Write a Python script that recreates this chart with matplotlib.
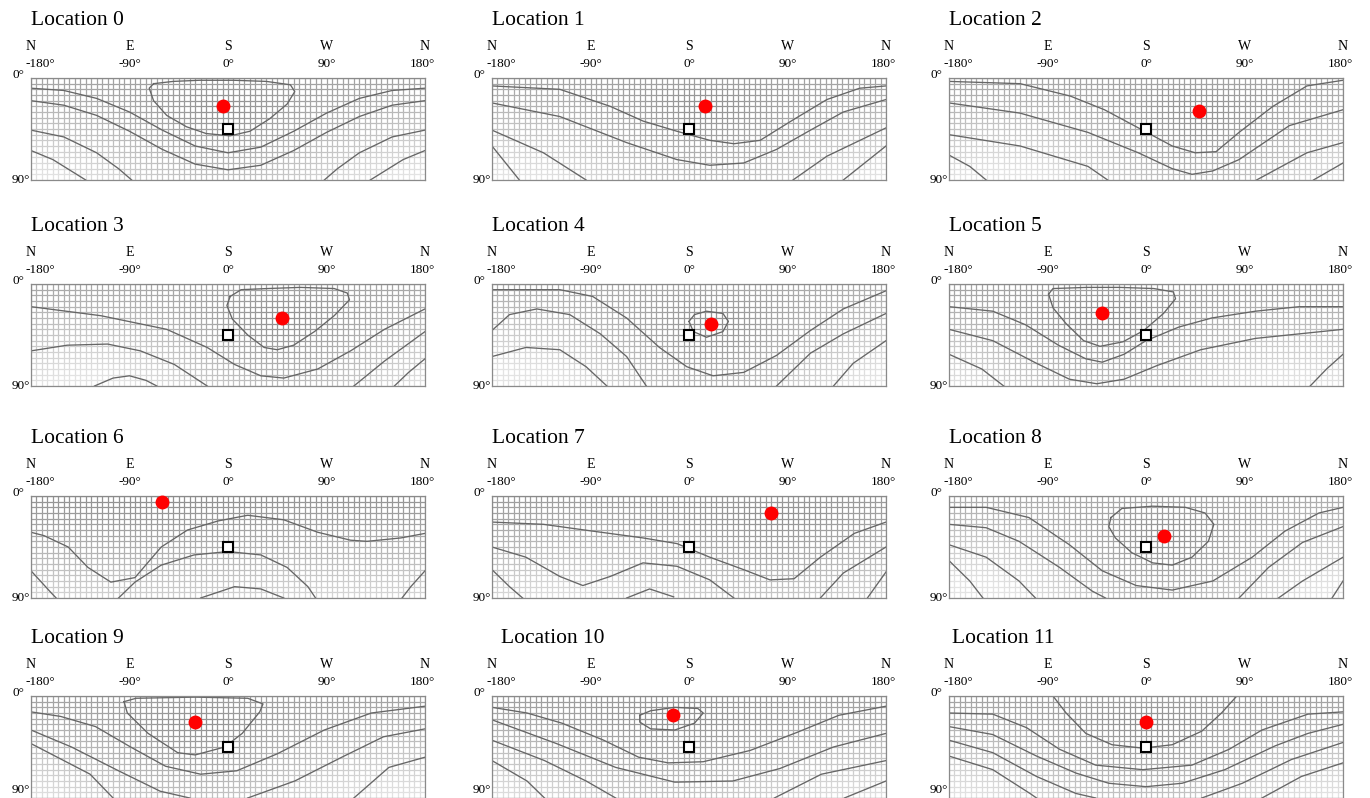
import numpy as np
import matplotlib.pyplot as plt
from matplotlib.collections import LineCollection

plt.rcParams['font.family'] = ['Liberation Serif', 'DejaVu Serif']

# ==========================================================
# DADOS
# ==========================================================
titulos = [f'Location {i}' for i in range(12)]

# ponto otimo (vermelho) e referencia (quadrado): azimute, inclinacao
otimo_az = [-5, 15, 48, 49, 20, -40, -60, 75, 16, -30, -15, 0]
otimo_tilt = [25, 25, 29, 30, 35, 26, 5, 15, 35, 23, 17, 23]
ref_az = [0] * 12
ref_tilt = [45] * 12

az_ticks = [-180, -90, 0, 90, 180]
rumos = ['N', 'E', 'S', 'W', 'N']
graus = ['-180°', '-90°', '0°', '90°', '180°']

# isolinhas de cada local: listas de (azimute, inclinacao)
iso_0 = [
    [(-68, 5), (-50, 3), (-26, 2), (5, 2), (35, 3), (57, 6), (61, 12), (54, 23), (38, 36), (20, 47),
     (2, 51), (-20, 49), (-38, 43), (-56, 33), (-68, 20), (-72, 9), (-68, 5)],
    [(-180, 9), (-150, 11), (-120, 18), (-90, 30), (-60, 46), (-30, 60), (0, 66), (30, 61), (60, 47),
     (90, 31), (120, 18), (150, 11), (180, 9)],
    [(-180, 20), (-150, 24), (-120, 33), (-90, 47), (-60, 63), (-30, 76), (0, 81), (30, 77), (60, 64),
     (90, 48), (120, 34), (150, 24), (180, 20)],
    [(-180, 46), (-150, 52), (-120, 66), (-100, 80), (-88, 90)],
    [(88, 90), (100, 80), (120, 66), (150, 52), (180, 46)],
    [(-180, 64), (-160, 72), (-140, 84), (-130, 90)],
    [(130, 90), (140, 84), (160, 72), (180, 64)],
]
iso_1 = [
    [(-180, 7), (-118, 10), (-72, 25), (-42, 38), (-11, 47), (19, 55), (41, 58), (65, 55), (95, 37),
     (126, 19), (156, 9), (180, 7)],
    [(-180, 22), (-118, 34), (-57, 57), (-11, 72), (19, 77), (50, 75), (80, 63), (111, 46), (141, 30),
     (180, 19)],
    [(-180, 46), (-133, 66), (-94, 90)],
    [(95, 90), (126, 69), (180, 44)],
    [(-180, 60), (-155, 90)],
    [(141, 90), (180, 60)],
]
iso_2 = [
    [(-180, 3), (-115, 5), (-69, 16), (-38, 28), (-7, 44), (24, 60), (45, 66), (64, 65), (85, 48),
     (116, 25), (147, 7), (180, 2)],
    [(-180, 22), (-115, 31), (-53, 48), (-7, 66), (24, 80), (42, 85), (61, 82), (85, 72), (131, 42),
     (180, 28)],
    [(-180, 50), (-115, 60), (-53, 78), (-35, 90)],
    [(101, 90), (147, 66), (180, 57)],
    [(-180, 68), (-161, 78), (-146, 90)],
    [(153, 90), (180, 75)],
]
iso_3 = [
    [(2, 11), (12, 5), (36, 4), (66, 3), (97, 4), (109, 8), (111, 14), (97, 28), (79, 42), (60, 54),
     (45, 58), (33, 56), (18, 45), (4, 31), (-1, 19), (2, 11)],
    [(-180, 20), (-116, 28), (-56, 40), (-19, 56), (6, 71), (30, 81), (51, 83), (82, 75), (112, 59),
     (143, 40), (180, 22)],
    [(-180, 59), (-147, 54), (-110, 53), (-80, 59), (-49, 71), (-19, 90)],
    [(115, 90), (143, 68), (180, 42)],
    [(-122, 90), (-105, 83), (-90, 81), (-75, 85), (-65, 90)],
    [(152, 90), (165, 78), (180, 66)],
]
iso_4 = [
    [(0, 33), (5, 27), (16, 24), (31, 26), (36, 33), (31, 42), (16, 47), (4, 42), (0, 33)],
    [(-180, 5), (-118, 5), (-88, 11), (-57, 30), (-27, 56), (-2, 73), (22, 81), (50, 78), (80, 63),
     (111, 41), (141, 22), (180, 6)],
    [(-180, 41), (-164, 27), (-139, 22), (-109, 27), (-81, 44), (-57, 64), (-39, 90)],
    [(80, 90), (111, 61), (141, 44), (180, 26)],
    [(-180, 64), (-149, 56), (-118, 58), (-94, 73), (-75, 90)],
    [(132, 90), (150, 70), (180, 50)],
]
iso_5 = [
    [(-89, 9), (-85, 4), (-54, 3), (-24, 3), (7, 4), (25, 7), (27, 13), (16, 26), (-2, 41), (-21, 51),
     (-42, 55), (-57, 50), (-73, 35), (-85, 21), (-89, 9)],
    [(-180, 20), (-140, 24), (-110, 36), (-80, 54), (-55, 66), (-40, 69), (-20, 62), (0, 50), (30, 38),
     (60, 30), (100, 24), (140, 20), (180, 20)],
    [(-180, 40), (-140, 50), (-100, 70), (-70, 84), (-45, 88), (-20, 84), (10, 72), (50, 58), (100, 48),
     (140, 44), (180, 40)],
    [(-180, 62), (-150, 75), (-130, 90)],
    [(150, 90), (165, 75), (180, 62)],
]
iso_6 = [
    [(-180, 32), (-168, 35), (-146, 45), (-128, 63), (-107, 76), (-85, 72), (-61, 45), (-37, 30), (-9, 22),
     (18, 17), (51, 21), (82, 32), (112, 39), (127, 40), (158, 37), (180, 33)],
    [(-180, 66), (-161, 86), (-157, 90)],
    [(-100, 90), (-85, 76), (-61, 61), (-31, 52), (0, 49), (30, 52), (54, 63), (73, 80), (80, 90)],
    [(-25, 90), (6, 80), (30, 82), (51, 90)],
    [(159, 90), (167, 80), (180, 66)],
]
iso_7 = [
    [(-180, 23), (-133, 25), (-88, 31), (-42, 37), (-11, 42), (19, 54), (50, 65), (74, 74), (96, 73),
     (120, 54), (151, 33), (180, 23)],
    [(-180, 45), (-149, 54), (-118, 71), (-97, 79), (-72, 71), (-42, 59), (-11, 62), (19, 74), (41, 90)],
    [(120, 90), (141, 68), (180, 45)],
    [(-180, 65), (-164, 80), (-152, 90)],
    [(-57, 90), (-36, 82), (-14, 89)],
    [(163, 90), (180, 67)],
]
iso_8 = [
    [(-32, 19), (-22, 11), (6, 9), (36, 10), (54, 15), (62, 25), (57, 40), (42, 54), (24, 61), (6, 59),
     (-13, 50), (-28, 37), (-34, 27), (-32, 19)],
    [(-180, 10), (-146, 10), (-107, 19), (-70, 43), (-40, 66), (-9, 79), (24, 83), (61, 75), (97, 54),
     (127, 31), (158, 15), (180, 10)],
    [(-180, 25), (-146, 28), (-116, 40), (-79, 63), (-49, 84), (-37, 90)],
    [(85, 90), (112, 63), (143, 41), (180, 27)],
    [(-180, 43), (-146, 54), (-116, 75), (-101, 90)],
    [(121, 90), (143, 75), (180, 54)],
    [(-180, 57), (-161, 75), (-149, 90)],
    [(170, 90), (180, 75)],
]
iso_9 = [
    [(-95, 5), (-84, 2), (-30, 1), (18, 2), (32, 7), (29, 14), (13, 33), (-3, 45), (-30, 52), (-46, 50),
     (-73, 33), (-92, 15), (-95, 5)],
    [(-180, 14), (-153, 18), (-121, 27), (-89, 45), (-57, 62), (-25, 69), (8, 66), (45, 51), (88, 30),
     (131, 15), (180, 9)],
    [(-180, 30), (-143, 45), (-100, 66), (-62, 84), (-35, 90)],
    [(18, 90), (61, 75), (104, 54), (142, 36), (180, 29)],
    [(-180, 42), (-126, 69), (-105, 90)],
    [(115, 90), (147, 63), (180, 54)],
]
iso_10 = [
    [(-45, 17), (-35, 13), (-13, 10), (8, 11), (13, 15), (5, 24), (-13, 30), (-35, 29), (-45, 23), (-45, 17)],
    [(-180, 10), (-148, 15), (-116, 24), (-78, 39), (-46, 54), (-19, 59), (13, 58), (56, 48), (99, 32),
     (137, 17), (180, 9)],
    [(-180, 21), (-121, 42), (-67, 63), (-13, 76), (40, 75), (83, 64), (132, 45), (180, 33)],
    [(-180, 39), (-132, 57), (-94, 75), (-67, 90)],
    [(78, 90), (121, 69), (180, 57)],
    [(-180, 57), (-148, 75), (-132, 90)],
    [(142, 90), (180, 75)],
]
iso_11 = [
    [(-85, 0), (-73, 15), (-55, 33), (-31, 43), (-3, 46), (24, 43), (51, 31), (69, 15), (83, 0)],
    [(-180, 15), (-140, 16), (-109, 28), (-79, 47), (-46, 61), (-3, 65), (42, 61), (76, 47), (106, 30),
     (148, 16), (180, 14)],
    [(-180, 27), (-140, 34), (-100, 53), (-64, 68), (-34, 77), (0, 80), (33, 77), (72, 65), (118, 44),
     (148, 33), (180, 25)],
    [(-180, 39), (-140, 50), (-100, 71), (-64, 86), (-46, 90)],
    [(51, 90), (88, 77), (133, 56), (180, 41)],
    [(-180, 53), (-140, 65), (-106, 86), (-100, 90)],
    [(106, 90), (142, 71), (180, 59)],
]
isolinhas = [iso_0, iso_1, iso_2, iso_3, iso_4, iso_5, iso_6, iso_7, iso_8, iso_9, iso_10, iso_11]

# ==========================================================
# LAYOUT (pixels da figura 1370x798)
# ==========================================================
W, H = 1370, 798
col_x = [31, 492, 949]
lin_y = [78, 284, 496, 696]
larg, alt = 394, 102
desloc_titulo = [0, 0, 0, 0, 0, 0, 0, 0, 0, 0, 9, 3]


def distancia(a, t, a0, t0):
    a, t, a0, t0 = map(np.radians, (a, t, a0, t0))
    c = np.cos(t) * np.cos(t0) + np.sin(t) * np.sin(t0) * np.cos(a - a0)
    return np.degrees(np.arccos(np.clip(c, -1, 1)))


def desenhar_grade(ax, a0, t0, passo=5):
    azs = np.arange(-180, 181, passo)
    tilts = np.arange(0, 91, passo)
    segs, meio = [], []
    for a in azs:
        for t in tilts[:-1]:
            segs.append([(a, t), (a, t + passo)])
            meio.append((a, t + passo / 2))
    for t in tilts:
        for a in azs[:-1]:
            segs.append([(a, t), (a + passo, t)])
            meio.append((a + passo / 2, t))
    meio = np.array(meio)
    d = distancia(meio[:, 0], meio[:, 1], a0, t0)
    g = 0.56 + 0.33 * np.clip(d / 110, 0, 1)
    cores = np.column_stack([g, g, g])
    ax.add_collection(LineCollection(segs, colors=cores, linewidths=0.9, zorder=1))


fig = plt.figure(figsize=(W / 100, H / 100), dpi=100)

for i in range(12):
    lin, col = divmod(i, 3)
    x0, y0 = col_x[col], lin_y[lin]
    ax = fig.add_axes([x0 / W, 1 - (y0 + alt) / H, larg / W, alt / H])
    ax.set_xlim(-180, 180)
    ax.set_ylim(90, 0)
    ax.set_xticks([])
    ax.set_yticks([])
    for s in ax.spines.values():
        s.set_color('#8a8a8a')
        s.set_linewidth(0.9)

    desenhar_grade(ax, otimo_az[i], otimo_tilt[i])

    for k, linha in enumerate(isolinhas[i]):
        xs = [p[0] for p in linha]
        ys = [p[1] for p in linha]
        ax.plot(xs, ys, color='#666666', linewidth=0.95, solid_joinstyle='round', zorder=2)

    ax.plot(ref_az[i], ref_tilt[i], marker='s', markersize=7.5, markerfacecolor='white',
            markeredgecolor='black', markeredgewidth=1.5, zorder=4, clip_on=False)
    ax.plot(otimo_az[i], otimo_tilt[i], marker='o', markersize=10, color='#ff0000',
            markeredgewidth=0, zorder=5, clip_on=False)

    # rotulos superiores
    for az, r, gr in zip(az_ticks, rumos, graus):
        dx = 0
        if az == -180:
            dx = 7
        elif az == 180:
            dx = -2
        ax.annotate(r, xy=(az, 1), xycoords=('data', 'axes fraction'), xytext=(0, 23),
                    textcoords='offset points', ha='center', va='center', fontsize=10)
        ax.annotate(gr, xy=(az, 1), xycoords=('data', 'axes fraction'), xytext=(dx, 10),
                    textcoords='offset points', ha='center', va='center', fontsize=9.5)

    ax.annotate('0°', xy=(0, 1), xycoords='axes fraction', xytext=(-5, 2),
                textcoords='offset points', ha='right', va='center', fontsize=9.5)
    dy90 = 6 if lin == 3 else 0
    ax.annotate('90°', xy=(0, 0), xycoords='axes fraction', xytext=(-1, dy90),
                textcoords='offset points', ha='right', va='center', fontsize=9.5)

    ax.annotate(titulos[i], xy=(0, 1), xycoords='axes fraction',
                xytext=(desloc_titulo[i] * 0.72, 38), textcoords='offset points',
                ha='left', va='baseline', fontsize=15.5)

fig.savefig('out.png', dpi=100)
